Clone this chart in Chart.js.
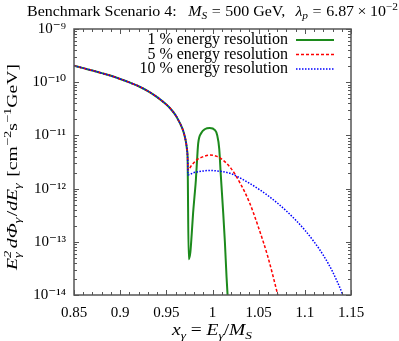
<!DOCTYPE html>
<html><head><meta charset="utf-8">
<script src="https://cdn.jsdelivr.net/npm/chart.js@4"></script>
<style>html,body{margin:0;padding:0;background:#fff;}#wrap{width:399px;height:341px;}</style>
</head><body><div id="wrap"><canvas id="c" width="399" height="341"></canvas></div>
<script>
// ---- data ----
const commonX = [0.85,0.86,0.87,0.88,0.89,0.90,0.91,0.92,0.93,0.94,0.95,0.955,0.96,0.965,0.968,0.970,0.9715,0.9725,0.973];
const commonY = [2.04e-10,1.84e-10,1.66e-10,1.48e-10,1.32e-10,1.15e-10,9.9e-11,8.4e-11,6.8e-11,5.25e-11,3.8e-11,3.1e-11,2.4e-11,1.66e-11,1.26e-11,9.5e-12,7.1e-12,5.2e-12,4.0e-12];

const res1X = [0.9742,0.9760,0.9775,0.979,0.9805,0.982,0.9835,0.9845,0.988,0.992,0.997,1.0026,1.005,1.0073,1.009,1.0116,1.0134,1.0152,1.0165];
const res1Y = [4.7e-14,6.3e-14,1.41e-13,3.5e-13,7.1e-13,1.45e-12,4.0e-12,7.1e-12,1.12e-11,1.32e-11,1.38e-11,1.26e-11,1.02e-11,5.6e-12,1.78e-12,3.5e-13,1.0e-13,2.2e-14,8.9e-15];

const res5X = [0.9735,0.977,0.983,0.99,0.997,1.004,1.011,1.02,1.03,1.04,1.05,1.06,1.07,1.075];
const res5Y = [2.24e-12,2.69e-12,3.47e-12,3.98e-12,4.27e-12,4.07e-12,3.47e-12,2.40e-12,1.26e-12,5.5e-13,1.82e-13,5.2e-14,1.12e-14,5.0e-15];

const res10X = [0.9735,0.98,0.99,0.997,1.01,1.02,1.03,1.04,1.05,1.06,1.07,1.08,1.09,1.10,1.11,1.12,1.13,1.14,1.145];
const res10Y = [1.82e-12,2.0e-12,2.14e-12,2.19e-12,2.09e-12,1.91e-12,1.58e-12,1.26e-12,9.8e-13,7.4e-13,5.4e-13,3.8e-13,2.57e-13,1.66e-13,1.0e-13,5.6e-14,2.75e-14,1.12e-14,6.3e-15];

const seriesLabels = ['1 % energy resolution','5 % energy resolution','10 % energy resolution'];
const xTicks = [0.85,0.9,0.95,1,1.05,1.1,1.15];
const yTickExponents = [-9,-10,-11,-12,-13,-14];

// ---- build ----
function pts(xs, ys){ return xs.map((x,i)=>({x:x, y:ys[i]})); }
const common = pts(commonX, commonY);
const FONT = '"Liberation Serif", "DejaVu Serif", serif';
const SUP = {'-':'\u207B','0':'\u2070','1':'\u00B9','2':'\u00B2','3':'\u00B3','4':'\u2074','5':'\u2075','6':'\u2076','7':'\u2077','8':'\u2078','9':'\u2079'};
function supStr(s){ return String(s).split('').map(c=>SUP[c]||c).join(''); }

function drawRich(ctx, segs, x, y, align, size, target){
  const small = Math.round(size*0.7);
  function isSmall(s){ return s.sub!==undefined || s.sup!==undefined; }
  function fontFor(s, sm){ return (s.it?'italic ':'') + (sm?small:size) + 'px ' + FONT; }
  function segW(s){
    let w;
    if (s.both){ ctx.font = fontFor(s,true); w = Math.max(ctx.measureText(s.sup).width, ctx.measureText(s.sub).width); }
    else { ctx.font = fontFor(s, isSmall(s)); w = ctx.measureText(s.t).width; }
    return w + (s.gap||0) + (s.pre||0);
  }
  let total = 0; segs.forEach(s=> total += segW(s));
  const k = target ? target/total : 1;
  const W = total*k;
  const start = align==='center' ? x - W/2 : (align==='right' ? x - W : x);
  ctx.save();
  ctx.translate(start, y); ctx.scale(k, 1);
  ctx.textAlign='left'; ctx.textBaseline='alphabetic'; ctx.fillStyle='#000';
  let cx = 0;
  segs.forEach(s=>{
    const w = segW(s);
    const px = cx + (s.pre||0);
    if (s.both){
      ctx.font = fontFor(s,true);
      ctx.fillText(s.sup, px, -size*0.42);
      ctx.fillText(s.sub, px, size*0.24);
    } else {
      ctx.font = fontFor(s, isSmall(s));
      const dy = s.sub!==undefined ? size*0.24 : (s.sup!==undefined ? -size*0.42 : 0);
      ctx.fillText(s.t, px, dy);
    }
    cx += w;
  });
  ctx.restore();
}

const decorations = {
  id:'decorations',
  afterDraw(chart){
    const {ctx, chartArea:a, scales:{x, y}} = chart;
    ctx.save();
    // frame ticks (inward, mirrored)
    ctx.strokeStyle = '#555'; ctx.lineWidth = 1;
    ctx.beginPath();
    for (let k=85; k<=115; k++){
      const px = Math.round(x.getPixelForValue(k/100)) + 0.5;
      const L = (k%5===0) ? 5 : 3;
      ctx.moveTo(px, a.bottom); ctx.lineTo(px, a.bottom - L);
      ctx.moveTo(px, a.top); ctx.lineTo(px, a.top + L);
    }
    for (let e=-14; e<=-9; e++){
      for (let m=1; m<=9; m++){
        if (e===-9 && m>1) break;
        const py = Math.round(y.getPixelForValue(m*Math.pow(10,e))) + 0.5;
        const L = (m===1) ? 5 : 3;
        ctx.moveTo(a.left, py); ctx.lineTo(a.left + L, py);
        ctx.moveTo(a.right, py); ctx.lineTo(a.right - L, py);
      }
    }
    ctx.stroke();
    ctx.lineWidth = 1.5;
    ctx.strokeRect(a.left, a.top, a.right-a.left, a.bottom-a.top);

    // legend (text left of sample)
    const rows = [40, 54.5, 69];
    chart.data.datasets.forEach((ds,i)=>{
      ctx.font = '16px ' + FONT; ctx.fillStyle='#000'; ctx.textAlign='right'; ctx.textBaseline='middle';
      ctx.fillText(ds.label, 288, rows[i]);
      ctx.strokeStyle = ds.borderColor; ctx.lineWidth = ds.borderWidth;
      ctx.setLineDash(ds.borderDash || []);
      ctx.beginPath(); ctx.moveTo(296, rows[i]); ctx.lineTo(334, rows[i]); ctx.stroke();
      ctx.setLineDash([]);
    });

    // title
    drawRich(ctx, [
      {t:'Benchmark Scenario 4:',gap:10},{t:'M',it:1},{t:'S',it:1,sub:1,gap:4},{t:'=',gap:4},{t:'500 GeV,',gap:9},
      {t:'\u03BB',it:1},{t:'p',it:1,sub:1,gap:4},{t:'=',gap:4},{t:'6.87',gap:3},{t:'\u00D7',gap:3},{t:'10'},{t:'\u22122',sup:1}
    ], 212.5, 16, 'center', 14, 371);

    // x title
    drawRich(ctx, [
      {t:'x',it:1},{t:'\u03B3',it:1,sub:1,gap:4},{t:'=',gap:4},{t:'E',it:1},{t:'\u03B3',it:1,sub:1},{t:'/'},{t:'M',it:1},{t:'S',it:1,sub:1}
    ], 212, 335, 'center', 16, 80);

    // y title (rotated)
    ctx.save();
    ctx.translate(17, 167);
    ctx.rotate(-Math.PI/2);
    drawRich(ctx, [
      {t:'E',it:1},{both:1,sup:'2',sub:'\u03B3',it:1,gap:2},{t:'d\u03A6',it:1},{t:'\u03B3',it:1,sub:1,gap:1},{t:'/'},{t:'dE',it:1},{t:'\u03B3',it:1,sub:1,gap:5},
      {t:'[cm'},{t:'\u22122',sup:1},{t:'s'},{t:'\u22121',sup:1},{t:'GeV]'}
    ], 0, 0, 'center', 15, 206);
    ctx.restore();
    ctx.restore();
  }
};

new Chart(document.getElementById('c'), {
  type:'line',
  data:{ datasets:[
    {label:seriesLabels[0], data:common.concat(pts(res1X,res1Y)), borderColor:'#1c8a1c', borderWidth:2, pointRadius:0, cubicInterpolationMode:'monotone', order:3},
    {label:seriesLabels[1], data:common.concat(pts(res5X,res5Y)), borderColor:'#ff0000', borderWidth:1.5, borderDash:[3,2], pointRadius:0, cubicInterpolationMode:'monotone', order:2},
    {label:seriesLabels[2], data:common.concat(pts(res10X,res10Y)), borderColor:'#0000ff', borderWidth:1.5, borderDash:[1.5,1.5], pointRadius:0, cubicInterpolationMode:'monotone', order:1}
  ]},
  options:{
    responsive:false, animation:false, devicePixelRatio:1,
    layout:{padding:{left:0, right:48, top:29, bottom:0}},
    plugins:{legend:{display:false}, tooltip:{enabled:false}, title:{display:false}},
    scales:{
      x:{type:'linear', min:0.85, max:1.15,
         afterBuildTicks:s=>{ s.ticks = xTicks.map(v=>({value:v})); },
         afterFit:s=>{ s.height = 46; },
         grid:{display:false, drawTicks:false}, border:{display:false},
         ticks:{autoSkip:false, maxRotation:0, padding:9, color:'#000', font:{family:FONT, size:15},
                callback:v=>String(parseFloat(Number(v).toFixed(2)))}},
      y:{type:'logarithmic', min:1e-14, max:1e-9,
         afterBuildTicks:s=>{ s.ticks = yTickExponents.map(e=>({value:Math.pow(10,e)})); },
         afterFit:s=>{ s.width = 74; },
         grid:{display:false, drawTicks:false}, border:{display:false},
         ticks:{autoSkip:false, padding:8, color:'#000', font:{family:FONT, size:15},
                callback:v=>'10'+supStr(Math.round(Math.log10(v)))}}
    }
  },
  plugins:[decorations]
});
</script></body></html>
